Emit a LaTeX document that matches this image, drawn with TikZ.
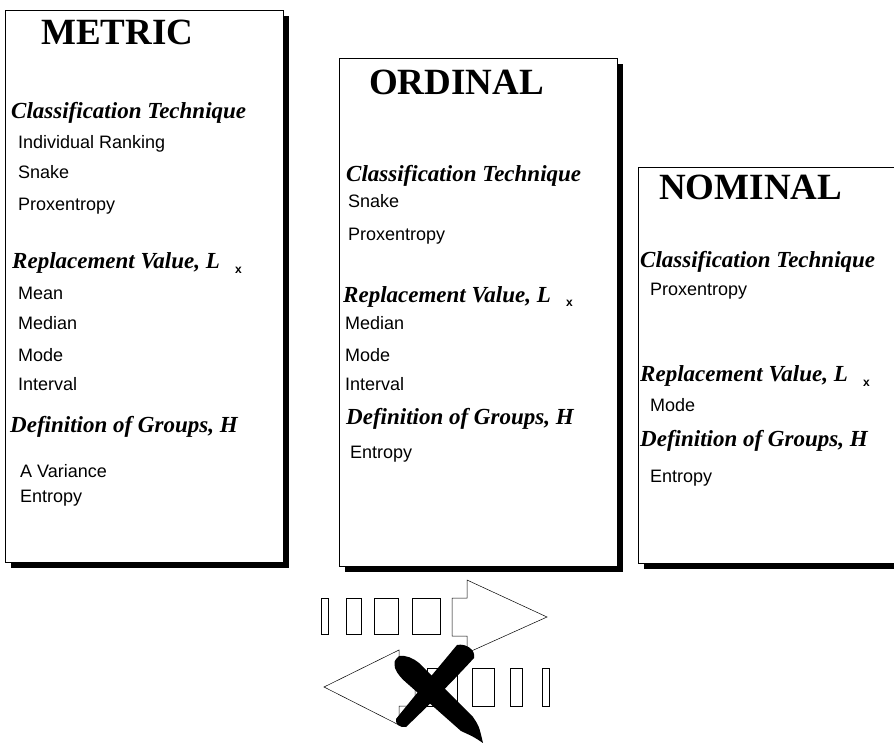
\documentclass[tikz,border=0pt]{standalone}
\usepackage{fontspec}
\setmainfont{Liberation Serif}
\setsansfont{Liberation Sans}
\usetikzlibrary{shadows}

\begin{document}
\begin{tikzpicture}[x=1pt,y=-1pt,
  panel/.style={draw,line width=0.7pt,fill=white,anchor=north west,inner sep=0pt,
    drop shadow={shadow xshift=6pt,shadow yshift=-6pt,fill=black,opacity=1}},
  title/.style={font=\fontsize{37}{40}\selectfont\bfseries,anchor=base west,inner sep=0pt},
  head/.style={font=\fontsize{23}{26}\selectfont\bfseries\itshape,anchor=base west,inner sep=0pt},
  item/.style={font=\sffamily\fontsize{18}{20}\selectfont,anchor=base west,inner sep=0pt},
  sub/.style={font=\sffamily\bfseries\fontsize{12}{14}\selectfont,anchor=base west,inner sep=0pt},
  bar/.style={draw,line width=0.5pt}]
\useasboundingbox (0,0) rectangle (894,743);

% the three panels
\node[panel,minimum width=278pt,minimum height=552pt] (metricbox) at (5,10) {};
\node[panel,minimum width=278pt,minimum height=508pt] (ordinalbox) at (339,58) {};
\node[panel,minimum width=270pt,minimum height=396pt] (nominalbox) at (638,167) {};

% metric
\node[title] (metric) at (41,45) {METRIC};
\node[head] (classM) at (11,119) {Classification Technique};
\node[item] (rankM) at (18,149) {Individual Ranking};
\node[item] (snakeM) at (18,179) {Snake};
\node[item] (proxM) at (18,211) {Proxentropy};
\node[head] (replM) at (12,269) {Replacement Value, L};
\node[sub] (subM) at ([xshift=15pt,yshift=-5pt]replM.base east) {x};
\node[item] (meanM) at (18,299) {Mean};
\node[item] (medianM) at (18,330) {Median};
\node[item] (modeM) at (18,361) {Mode};
\node[item] (intervalM) at (18,390) {Interval};
\node[head] (defM) at (10,432) {Definition of Groups, H};
\node[item] (varM) at (20,477) {A Variance};
\node[item] (entM) at (20,502) {Entropy};

% ordinal
\node[title] (ordinal) at (369,95) {ORDINAL};
\node[head] (classO) at (346,182) {Classification Technique};
\node[item] (snakeO) at (348,208) {Snake};
\node[item] (proxO) at (348,241) {Proxentropy};
\node[head] (replO) at (343,302) {Replacement Value, L};
\node[sub] (subO) at ([xshift=15pt,yshift=-5pt]replO.base east) {x};
\node[item] (medianO) at (345,330) {Median};
\node[item] (modeO) at (345,361) {Mode};
\node[item] (intervalO) at (345,390) {Interval};
\node[head] (defO) at (346,424) {Definition of Groups, H};
\node[item] (entO) at (350,458) {Entropy};

% nominal
\node[title] (nominal) at (659,200) {NOMINAL};
\node[head] (classN) at (640,268) {Classification Technique};
\node[item] (proxN) at (650,296) {Proxentropy};
\node[head] (replN) at (640,381) {Replacement Value, L};
\node[sub] (subN) at ([xshift=15pt,yshift=-5pt]replN.base east) {x};
\node[item] (modeN) at (650,411) {Mode};
\node[head] (defN) at (640,446) {Definition of Groups, H};
\node[item] (entN) at (650,482) {Entropy};

% forward arrow
\draw[bar] (321,598) rectangle (328,634);
\draw[bar] (346,598) rectangle (361,634);
\draw[bar] (374,598) rectangle (398,634);
\draw[bar] (412,598) rectangle (440,634);
\draw[bar] (452,598) -- (467,598) -- (467,580) -- (547,617) -- (467,653)
    -- (467,636) -- (452,636) -- cycle;

% backward arrow
\draw[bar] (324,687) -- (399,650) -- (399,668) -- (415,668) -- (415,706)
    -- (399,706) -- (399,725) -- cycle;
\draw[bar] (427,668) rectangle (457,706);
\draw[bar] (472,668) rectangle (494,706);
\draw[bar] (510,668) rectangle (522,706);
\draw[bar] (542,668) rectangle (549,706);

% the cross
\fill (457,645) .. controls (466,643) and (476,650) .. (474,658)
    .. controls (452,682) and (428,706) .. (406,727)
    .. controls (400,728) and (395,724) .. (396,719)
    .. controls (416,694) and (438,668) .. (457,645) -- cycle;
\fill (399,656) .. controls (406,655) and (413,658) .. (419,663) -- (473,717)
    .. controls (479,726) .. (483,743) .. controls (474,737) .. (461,731)
    -- (409,685) .. controls (402,679) and (397,674) .. (395,668)
    .. controls (394,661) .. (399,656) -- cycle;
\end{tikzpicture}
\end{document}
